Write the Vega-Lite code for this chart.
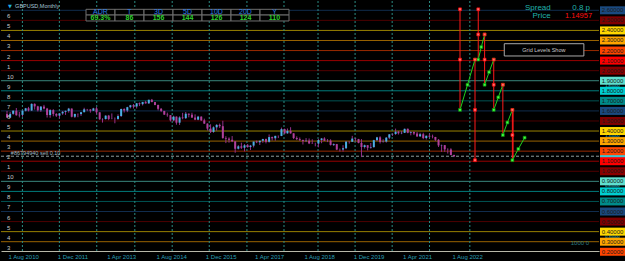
{
"$schema": "https://vega.github.io/schema/vega-lite/v6.json",
"background": "#000000",
"padding": 0,
"spacing": 0,
"bounds": "flush",
"config": {"view": {"stroke": null}, "text": {"font": "Liberation Sans"}, "axis": {"grid": false}},
"datasets": {
"levels": [
{"p":2.6,"d":"6","lab":"2.60000","left":"6"},{"p":2.5,"d":"5","lab":"2.50000","left":"5"},{"p":2.4,"d":"4","lab":"2.40000","left":"4"},{"p":2.3,"d":"3","lab":"2.30000","left":"3"},{"p":2.2,"d":"2","lab":"2.20000","left":"2"},{"p":2.1,"d":"1","lab":"2.10000","left":"1"},{"p":2.0,"d":"0","lab":"2.00000","left":"10"},{"p":1.9,"d":"9","lab":"1.90000","left":"9"},{"p":1.8,"d":"8","lab":"1.80000","left":"8"},{"p":1.7,"d":"7","lab":"1.70000","left":"7"},{"p":1.6,"d":"6","lab":"1.60000","left":"6"},{"p":1.5,"d":"5","lab":"1.50000","left":"5"},{"p":1.4,"d":"4","lab":"1.40000","left":"4"},{"p":1.3,"d":"3","lab":"1.30000","left":"3"},{"p":1.2,"d":"2","lab":"1.20000","left":"2"},{"p":1.1,"d":"1","lab":"1.10000","left":"1"},{"p":1.0,"d":"0","lab":"1.00000","left":"10"},{"p":0.9,"d":"9","lab":"0.90000","left":"9"},{"p":0.8,"d":"8","lab":"0.80000","left":"8"},{"p":0.7,"d":"7","lab":"0.70000","left":"7"},{"p":0.6,"d":"6","lab":"0.60000","left":"6"},{"p":0.5,"d":"5","lab":"0.50000","left":"5"},{"p":0.4,"d":"4","lab":"0.40000","left":"4"},{"p":0.3,"d":"3","lab":"0.30000","left":"3"},{"p":0.2,"d":"2","lab":"0.20000","left":""}
],
"vgrid": [{"t":"2010-12-31"},{"t":"2011-12-31"},{"t":"2013-01-03"},{"t":"2014-01-14"},{"t":"2015-01-18"},{"t":"2016-01-19"},{"t":"2017-01-25"},{"t":"2018-01-26"},{"t":"2018-12-28"},{"t":"2019-12-29"},{"t":"2020-12-29"},{"t":"2022-01-02"},{"t":"2023-02-04"}],
"candles": [
{"t":"2010-08-01","o":1.569,"h":1.600,"l":1.533,"c":1.534},
{"t":"2010-09-01","o":1.534,"h":1.590,"l":1.529,"c":1.571},
{"t":"2010-10-01","o":1.571,"h":1.604,"l":1.562,"c":1.602},
{"t":"2010-11-01","o":1.602,"h":1.629,"l":1.553,"c":1.557},
{"t":"2010-12-01","o":1.557,"h":1.590,"l":1.535,"c":1.561},
{"t":"2011-01-01","o":1.561,"h":1.603,"l":1.543,"c":1.602},
{"t":"2011-02-01","o":1.602,"h":1.630,"l":1.595,"c":1.626},
{"t":"2011-03-01","o":1.626,"h":1.640,"l":1.595,"c":1.604},
{"t":"2011-04-01","o":1.604,"h":1.675,"l":1.600,"c":1.670},
{"t":"2011-05-01","o":1.670,"h":1.675,"l":1.613,"c":1.645},
{"t":"2011-06-01","o":1.645,"h":1.651,"l":1.594,"c":1.606},
{"t":"2011-07-01","o":1.606,"h":1.647,"l":1.590,"c":1.643},
{"t":"2011-08-01","o":1.643,"h":1.660,"l":1.615,"c":1.623},
{"t":"2011-09-01","o":1.623,"h":1.630,"l":1.534,"c":1.559},
{"t":"2011-10-01","o":1.559,"h":1.617,"l":1.532,"c":1.608},
{"t":"2011-11-01","o":1.608,"h":1.617,"l":1.546,"c":1.570},
{"t":"2011-12-01","o":1.570,"h":1.577,"l":1.540,"c":1.553},
{"t":"2012-01-01","o":1.553,"h":1.580,"l":1.523,"c":1.575},
{"t":"2012-02-01","o":1.575,"h":1.599,"l":1.561,"c":1.591},
{"t":"2012-03-01","o":1.591,"h":1.604,"l":1.560,"c":1.600},
{"t":"2012-04-01","o":1.600,"h":1.630,"l":1.583,"c":1.623},
{"t":"2012-05-01","o":1.623,"h":1.625,"l":1.536,"c":1.542},
{"t":"2012-06-01","o":1.542,"h":1.572,"l":1.530,"c":1.570},
{"t":"2012-07-01","o":1.570,"h":1.574,"l":1.537,"c":1.568},
{"t":"2012-08-01","o":1.568,"h":1.590,"l":1.550,"c":1.587},
{"t":"2012-09-01","o":1.587,"h":1.631,"l":1.586,"c":1.616},
{"t":"2012-10-01","o":1.616,"h":1.620,"l":1.597,"c":1.614},
{"t":"2012-11-01","o":1.614,"h":1.617,"l":1.583,"c":1.602},
{"t":"2012-12-01","o":1.602,"h":1.631,"l":1.600,"c":1.625},
{"t":"2013-01-01","o":1.625,"h":1.638,"l":1.566,"c":1.586},
{"t":"2013-02-01","o":1.586,"h":1.586,"l":1.511,"c":1.517},
{"t":"2013-03-01","o":1.517,"h":1.527,"l":1.484,"c":1.519},
{"t":"2013-04-01","o":1.519,"h":1.556,"l":1.514,"c":1.553},
{"t":"2013-05-01","o":1.553,"h":1.560,"l":1.508,"c":1.520},
{"t":"2013-06-01","o":1.520,"h":1.575,"l":1.517,"c":1.521},
{"t":"2013-07-01","o":1.521,"h":1.535,"l":1.477,"c":1.520},
{"t":"2013-08-01","o":1.520,"h":1.566,"l":1.512,"c":1.549},
{"t":"2013-09-01","o":1.549,"h":1.623,"l":1.540,"c":1.619},
{"t":"2013-10-01","o":1.619,"h":1.626,"l":1.584,"c":1.604},
{"t":"2013-11-01","o":1.604,"h":1.641,"l":1.588,"c":1.637},
{"t":"2013-12-01","o":1.637,"h":1.660,"l":1.625,"c":1.656},
{"t":"2014-01-01","o":1.656,"h":1.668,"l":1.624,"c":1.644},
{"t":"2014-02-01","o":1.644,"h":1.679,"l":1.624,"c":1.676},
{"t":"2014-03-01","o":1.676,"h":1.684,"l":1.648,"c":1.667},
{"t":"2014-04-01","o":1.667,"h":1.690,"l":1.654,"c":1.688},
{"t":"2014-05-01","o":1.688,"h":1.700,"l":1.672,"c":1.675},
{"t":"2014-06-01","o":1.675,"h":1.711,"l":1.670,"c":1.711},
{"t":"2014-07-01","o":1.711,"h":1.719,"l":1.686,"c":1.688},
{"t":"2014-08-01","o":1.688,"h":1.689,"l":1.656,"c":1.659},
{"t":"2014-09-01","o":1.659,"h":1.663,"l":1.605,"c":1.621},
{"t":"2014-10-01","o":1.621,"h":1.629,"l":1.588,"c":1.600},
{"t":"2014-11-01","o":1.600,"h":1.600,"l":1.560,"c":1.563},
{"t":"2014-12-01","o":1.563,"h":1.583,"l":1.542,"c":1.558},
{"t":"2015-01-01","o":1.558,"h":1.559,"l":1.495,"c":1.506},
{"t":"2015-02-01","o":1.506,"h":1.552,"l":1.497,"c":1.543},
{"t":"2015-03-01","o":1.543,"h":1.545,"l":1.463,"c":1.483},
{"t":"2015-04-01","o":1.483,"h":1.546,"l":1.460,"c":1.535},
{"t":"2015-05-01","o":1.535,"h":1.581,"l":1.517,"c":1.528},
{"t":"2015-06-01","o":1.528,"h":1.589,"l":1.520,"c":1.572},
{"t":"2015-07-01","o":1.572,"h":1.575,"l":1.536,"c":1.562},
{"t":"2015-08-01","o":1.562,"h":1.582,"l":1.530,"c":1.534},
{"t":"2015-09-01","o":1.534,"h":1.566,"l":1.508,"c":1.513},
{"t":"2015-10-01","o":1.513,"h":1.551,"l":1.507,"c":1.543},
{"t":"2015-11-01","o":1.543,"h":1.546,"l":1.500,"c":1.506},
{"t":"2015-12-01","o":1.506,"h":1.523,"l":1.470,"c":1.474},
{"t":"2016-01-01","o":1.474,"h":1.476,"l":1.405,"c":1.424},
{"t":"2016-02-01","o":1.424,"h":1.467,"l":1.380,"c":1.391},
{"t":"2016-03-01","o":1.391,"h":1.446,"l":1.383,"c":1.437},
{"t":"2016-04-01","o":1.437,"h":1.468,"l":1.403,"c":1.461},
{"t":"2016-05-01","o":1.461,"h":1.474,"l":1.431,"c":1.448},
{"t":"2016-06-01","o":1.448,"h":1.502,"l":1.323,"c":1.331},
{"t":"2016-07-01","o":1.331,"h":1.348,"l":1.280,"c":1.324},
{"t":"2016-08-01","o":1.324,"h":1.337,"l":1.284,"c":1.313},
{"t":"2016-09-01","o":1.313,"h":1.350,"l":1.290,"c":1.297},
{"t":"2016-10-01","o":1.297,"h":1.299,"l":1.184,"c":1.224},
{"t":"2016-11-01","o":1.224,"h":1.260,"l":1.217,"c":1.248},
{"t":"2016-12-01","o":1.248,"h":1.284,"l":1.222,"c":1.234},
{"t":"2017-01-01","o":1.234,"h":1.270,"l":1.198,"c":1.258},
{"t":"2017-02-01","o":1.258,"h":1.271,"l":1.234,"c":1.241},
{"t":"2017-03-01","o":1.241,"h":1.262,"l":1.211,"c":1.255},
{"t":"2017-04-01","o":1.255,"h":1.295,"l":1.237,"c":1.295},
{"t":"2017-05-01","o":1.295,"h":1.305,"l":1.280,"c":1.288},
{"t":"2017-06-01","o":1.288,"h":1.305,"l":1.261,"c":1.303},
{"t":"2017-07-01","o":1.303,"h":1.323,"l":1.283,"c":1.320},
{"t":"2017-08-01","o":1.320,"h":1.325,"l":1.277,"c":1.293},
{"t":"2017-09-01","o":1.293,"h":1.366,"l":1.285,"c":1.340},
{"t":"2017-10-01","o":1.340,"h":1.345,"l":1.306,"c":1.328},
{"t":"2017-11-01","o":1.328,"h":1.353,"l":1.304,"c":1.352},
{"t":"2017-12-01","o":1.352,"h":1.355,"l":1.330,"c":1.351},
{"t":"2018-01-01","o":1.351,"h":1.434,"l":1.349,"c":1.419},
{"t":"2018-02-01","o":1.419,"h":1.424,"l":1.371,"c":1.377},
{"t":"2018-03-01","o":1.377,"h":1.425,"l":1.373,"c":1.402},
{"t":"2018-04-01","o":1.402,"h":1.438,"l":1.374,"c":1.377},
{"t":"2018-05-01","o":1.377,"h":1.378,"l":1.320,"c":1.330},
{"t":"2018-06-01","o":1.330,"h":1.347,"l":1.310,"c":1.320},
{"t":"2018-07-01","o":1.320,"h":1.336,"l":1.300,"c":1.312},
{"t":"2018-08-01","o":1.312,"h":1.313,"l":1.266,"c":1.300},
{"t":"2018-09-01","o":1.300,"h":1.330,"l":1.290,"c":1.304},
{"t":"2018-10-01","o":1.304,"h":1.326,"l":1.270,"c":1.277},
{"t":"2018-11-01","o":1.277,"h":1.318,"l":1.272,"c":1.275},
{"t":"2018-12-01","o":1.275,"h":1.284,"l":1.248,"c":1.275},
{"t":"2019-01-01","o":1.275,"h":1.322,"l":1.238,"c":1.311},
{"t":"2019-02-01","o":1.311,"h":1.331,"l":1.279,"c":1.326},
{"t":"2019-03-01","o":1.326,"h":1.338,"l":1.300,"c":1.303},
{"t":"2019-04-01","o":1.303,"h":1.320,"l":1.290,"c":1.304},
{"t":"2019-05-01","o":1.304,"h":1.318,"l":1.256,"c":1.262},
{"t":"2019-06-01","o":1.262,"h":1.277,"l":1.251,"c":1.270},
{"t":"2019-07-01","o":1.270,"h":1.272,"l":1.210,"c":1.216},
{"t":"2019-08-01","o":1.216,"h":1.226,"l":1.196,"c":1.216},
{"t":"2019-09-01","o":1.216,"h":1.259,"l":1.196,"c":1.229},
{"t":"2019-10-01","o":1.229,"h":1.301,"l":1.220,"c":1.294},
{"t":"2019-11-01","o":1.294,"h":1.298,"l":1.275,"c":1.293},
{"t":"2019-12-01","o":1.293,"h":1.352,"l":1.291,"c":1.325},
{"t":"2020-01-01","o":1.325,"h":1.330,"l":1.296,"c":1.320},
{"t":"2020-02-01","o":1.320,"h":1.322,"l":1.278,"c":1.282},
{"t":"2020-03-01","o":1.282,"h":1.320,"l":1.141,"c":1.241},
{"t":"2020-04-01","o":1.241,"h":1.265,"l":1.226,"c":1.259},
{"t":"2020-05-01","o":1.259,"h":1.260,"l":1.207,"c":1.234},
{"t":"2020-06-01","o":1.234,"h":1.281,"l":1.225,"c":1.240},
{"t":"2020-07-01","o":1.240,"h":1.313,"l":1.235,"c":1.309},
{"t":"2020-08-01","o":1.309,"h":1.342,"l":1.300,"c":1.337},
{"t":"2020-09-01","o":1.337,"h":1.348,"l":1.276,"c":1.292},
{"t":"2020-10-01","o":1.292,"h":1.318,"l":1.285,"c":1.295},
{"t":"2020-11-01","o":1.295,"h":1.340,"l":1.285,"c":1.334},
{"t":"2020-12-01","o":1.334,"h":1.370,"l":1.319,"c":1.367},
{"t":"2021-01-01","o":1.367,"h":1.376,"l":1.352,"c":1.370},
{"t":"2021-02-01","o":1.370,"h":1.424,"l":1.362,"c":1.393},
{"t":"2021-03-01","o":1.393,"h":1.401,"l":1.365,"c":1.378},
{"t":"2021-04-01","o":1.378,"h":1.401,"l":1.369,"c":1.382},
{"t":"2021-05-01","o":1.382,"h":1.424,"l":1.380,"c":1.422},
{"t":"2021-06-01","o":1.422,"h":1.425,"l":1.378,"c":1.383},
{"t":"2021-07-01","o":1.383,"h":1.398,"l":1.357,"c":1.390},
{"t":"2021-08-01","o":1.390,"h":1.396,"l":1.360,"c":1.375},
{"t":"2021-09-01","o":1.375,"h":1.391,"l":1.341,"c":1.347},
{"t":"2021-10-01","o":1.347,"h":1.383,"l":1.343,"c":1.368},
{"t":"2021-11-01","o":1.368,"h":1.383,"l":1.319,"c":1.330},
{"t":"2021-12-01","o":1.330,"h":1.355,"l":1.316,"c":1.353},
{"t":"2022-01-01","o":1.353,"h":1.375,"l":1.336,"c":1.344},
{"t":"2022-02-01","o":1.344,"h":1.364,"l":1.327,"c":1.341},
{"t":"2022-03-01","o":1.341,"h":1.342,"l":1.300,"c":1.313},
{"t":"2022-04-01","o":1.313,"h":1.320,"l":1.241,"c":1.257},
{"t":"2022-05-01","o":1.257,"h":1.265,"l":1.193,"c":1.260},
{"t":"2022-06-01","o":1.260,"h":1.260,"l":1.193,"c":1.218},
{"t":"2022-07-01","o":1.218,"h":1.228,"l":1.176,"c":1.217},
{"t":"2022-08-01","o":1.217,"h":1.229,"l":1.160,"c":1.162},
{"t":"2022-09-01","o":1.162,"h":1.165,"l":1.141,"c":1.150}
],
"reds": [
{"t":"2022-10-30","a":2.61,"b":1.61},{"t":"2023-03-27","a":2.11,"b":1.11},{"t":"2023-04-28","a":2.61,"b":2.11},{"t":"2023-06-30","a":2.36,"b":1.86},{"t":"2023-09-28","a":2.11,"b":1.61},{"t":"2023-12-27","a":1.86,"b":1.36},{"t":"2024-03-30","a":1.61,"b":1.11},{"t":"2024-04-06","a":1.61,"b":1.11}
],
"redpts": [
{"t":"2022-10-30","p":2.61},{"t":"2022-10-30","p":2.11},{"t":"2023-04-28","p":2.61},{"t":"2023-04-28","p":2.36},{"t":"2023-06-30","p":2.36},{"t":"2023-06-30","p":2.11},{"t":"2023-03-27","p":2.11},{"t":"2023-03-27","p":1.61},{"t":"2023-03-27","p":1.11},{"t":"2023-09-28","p":2.11},{"t":"2023-09-28","p":1.86},{"t":"2023-12-27","p":1.86},{"t":"2024-03-30","p":1.61},{"t":"2024-03-30","p":1.36}
],
"greens": [
{"g":"a","t":"2022-10-30","p":1.61},{"g":"a","t":"2023-01-12","p":1.86},{"g":"a","t":"2023-03-27","p":2.11},
{"g":"b","t":"2023-04-28","p":2.11},{"g":"b","t":"2023-05-28","p":2.235},{"g":"b","t":"2023-06-30","p":2.36},
{"g":"c","t":"2023-06-30","p":1.86},{"g":"c","t":"2023-08-13","p":1.985},{"g":"c","t":"2023-09-28","p":2.11},
{"g":"d","t":"2023-09-28","p":1.61},{"g":"d","t":"2023-11-12","p":1.735},{"g":"d","t":"2023-12-27","p":1.86},
{"g":"e","t":"2023-12-27","p":1.36},{"g":"e","t":"2024-02-10","p":1.485},{"g":"e","t":"2024-03-30","p":1.61},
{"g":"f","t":"2024-03-30","p":1.11},{"g":"f","t":"2024-05-28","p":1.222},{"g":"f","t":"2024-07-29","p":1.334}
],
"adr": [
{"col":"ADR","val":"69.3%"},{"col":"T","val":"86"},{"col":"3D","val":"156"},{"col":"5D","val":"144"},{"col":"10D","val":"126"},{"col":"20D","val":"124"},{"col":"Y","val":"110"}
],
"minor": [{"p":1.85,"s":"1.85000"},{"p":1.35,"s":"1.35000"},{"p":0.85,"s":"0.85000"},{"p":0.35,"s":"0.35000"}]
},
"hconcat": [
{
"width": 598,
"height": 250,
"resolve": {"scale": {"x": "independent"}},
"layer": [
{
"layer": [
{"data":{"name":"levels"},"transform":[{"filter":"datum.p > 0.25"}],"mark":{"type":"rule","strokeWidth":1,"opacity":0.6},
 "encoding":{"y":{"field":"p","type":"quantitative","title":null,"axis":null,"scale":{"domain":[0.2075,2.6925],"nice":false,"zero":false}},
 "color":{"field":"d","type":"nominal","legend":null,"scale":{"domain":["0","1","2","3","4","5","6","7","8","9"],"range":["#8b0000","#ff0000","#ff4500","#ffa500","#ffd700","#800000","#1a4a80","#008b8b","#00ced1","#5fe0d0"]}}}},
{"data":{"name":"vgrid"},"mark":{"type":"rule","strokeDash":[2,2],"color":"#2b8c84","strokeWidth":1},
 "encoding":{"x":{"field":"t","type":"temporal","title":null,
  "scale":{"type":"utc","domain":[{"year":2010,"month":7,"date":22,"utc":true},{"year":2026,"month":6,"date":14,"utc":true}]},
  "axis":{"values":[{"year":2010,"month":8,"date":1,"utc":true},{"year":2011,"month":12,"date":1,"utc":true},{"year":2013,"month":4,"date":1,"utc":true},{"year":2014,"month":8,"date":1,"utc":true},{"year":2015,"month":12,"date":1,"utc":true},{"year":2017,"month":4,"date":1,"utc":true},{"year":2018,"month":8,"date":1,"utc":true},{"year":2019,"month":12,"date":1,"utc":true},{"year":2021,"month":4,"date":1,"utc":true},{"year":2022,"month":8,"date":1,"utc":true}],
   "format":"%-d %b %Y","labelAlign":"left","labelOffset":1,"labelPadding":2,"ticks":false,"tickSize":0,"labelColor":"#2a9fb5","labelFontSize":6,"labelFont":"Liberation Sans","domainColor":"#b8b8a8","domainWidth":1,"labelOverlap":false,"labelFlush":false,"labelBound":false,"minExtent":11,"maxExtent":11,"grid":false,"title":null}}}},
{"data":{"values":[{"p":1.14957}]},"mark":{"type":"rule","strokeDash":[3,2],"color":"#8c9c9c","strokeWidth":1},
 "encoding":{"y":{"field":"p","type":"quantitative","title":null,"axis":null,"scale":{"domain":[0.2075,2.6925],"nice":false,"zero":false}}}},
{"data":{"name":"candles"},"mark":{"type":"rule","color":"#93308a","strokeWidth":1},
 "encoding":{"x":{"field":"t","type":"temporal","title":null,"scale":{"type":"utc","domain":[{"year":2010,"month":7,"date":22,"utc":true},{"year":2026,"month":6,"date":14,"utc":true}]}},
 "y":{"field":"l","type":"quantitative","title":null,"axis":null,"scale":{"domain":[0.2075,2.6925],"nice":false,"zero":false}},"y2":{"field":"h"}}},
{"data":{"name":"candles"},"mark":{"type":"bar","size":2,"opacity":1},
 "encoding":{"x":{"field":"t","type":"temporal","title":null,"scale":{"type":"utc","domain":[{"year":2010,"month":7,"date":22,"utc":true},{"year":2026,"month":6,"date":14,"utc":true}]}},
 "y":{"field":"o","type":"quantitative","title":null,"axis":null,"scale":{"domain":[0.2075,2.6925],"nice":false,"zero":false}},"y2":{"field":"c"},
 "color":{"condition":{"test":"datum.c >= datum.o","value":"#48b0e4"},"value":"#b0409a"}}},
{"data":{"name":"reds"},"mark":{"type":"rule","color":"#ff1a1a","strokeWidth":1},
 "encoding":{"x":{"field":"t","type":"temporal","title":null,"scale":{"type":"utc","domain":[{"year":2010,"month":7,"date":22,"utc":true},{"year":2026,"month":6,"date":14,"utc":true}]}},
 "y":{"field":"a","type":"quantitative","title":null,"axis":null,"scale":{"domain":[0.2075,2.6925],"nice":false,"zero":false}},"y2":{"field":"b"}}},
{"data":{"name":"greens"},"mark":{"type":"line","color":"#1ed21e","strokeWidth":1},
 "encoding":{"x":{"field":"t","type":"temporal","title":null,"scale":{"type":"utc","domain":[{"year":2010,"month":7,"date":22,"utc":true},{"year":2026,"month":6,"date":14,"utc":true}]}},
 "y":{"field":"p","type":"quantitative","title":null,"axis":null,"scale":{"domain":[0.2075,2.6925],"nice":false,"zero":false}},"detail":{"field":"g","type":"nominal"}}},
{"data":{"name":"greens"},"mark":{"type":"point","shape":"square","filled":true,"size":8,"fill":"#40ff40","stroke":"#0a8a0a","strokeWidth":0.7,"opacity":1},
 "encoding":{"x":{"field":"t","type":"temporal","title":null,"scale":{"type":"utc","domain":[{"year":2010,"month":7,"date":22,"utc":true},{"year":2026,"month":6,"date":14,"utc":true}]}},
 "y":{"field":"p","type":"quantitative","title":null,"axis":null,"scale":{"domain":[0.2075,2.6925],"nice":false,"zero":false}}}},
{"data":{"name":"redpts"},"mark":{"type":"point","shape":"square","filled":true,"size":8,"fill":"#ff7070","stroke":"#ff0000","strokeWidth":0.7,"opacity":1},
 "encoding":{"x":{"field":"t","type":"temporal","title":null,"scale":{"type":"utc","domain":[{"year":2010,"month":7,"date":22,"utc":true},{"year":2026,"month":6,"date":14,"utc":true}]}},
 "y":{"field":"p","type":"quantitative","title":null,"axis":null,"scale":{"domain":[0.2075,2.6925],"nice":false,"zero":false}}}},
{"data":{"name":"levels"},"mark":{"type":"text","align":"left","baseline":"middle","dx":1,"dy":6,"fontSize":6,"color":"#c8c8c8"},
 "encoding":{"x":{"datum":{"year":2010,"month":7,"date":22,"utc":true},"type":"temporal","title":null,"scale":{"type":"utc","domain":[{"year":2010,"month":7,"date":22,"utc":true},{"year":2026,"month":6,"date":14,"utc":true}]}},
 "y":{"field":"p","type":"quantitative","title":null,"axis":null,"scale":{"domain":[0.2075,2.6925],"nice":false,"zero":false}},"text":{"field":"left"}}},
{"data":{"values":[{"s":"▼"}]},"mark":{"type":"text","align":"left","baseline":"middle","fontSize":5,"font":"DejaVu Sans","color":"#1fb0e0"},
 "encoding":{"x":{"datum":{"year":2010,"month":8,"date":11,"utc":true},"type":"temporal","title":null},"y":{"datum":2.643,"type":"quantitative","title":null,"axis":null},"text":{"field":"s"}}},
{"data":{"values":[{"s":"GBPUSD,Monthly"}]},"mark":{"type":"text","align":"left","baseline":"middle","fontSize":5.5,"color":"#a8c8d8"},
 "encoding":{"x":{"datum":{"year":2010,"month":10,"date":20,"utc":true},"type":"temporal","title":null},"y":{"datum":2.643,"type":"quantitative","title":null,"axis":null},"text":{"field":"s"}}},
{"data":{"values":[{"s":"#86794940 sell 0.10"}]},"mark":{"type":"text","align":"left","baseline":"middle","fontSize":5.5,"color":"#a0b8c0"},
 "encoding":{"x":{"datum":{"year":2010,"month":9,"date":8,"utc":true},"type":"temporal","title":null},"y":{"datum":1.186,"type":"quantitative","title":null,"axis":null},"text":{"field":"s"}}},
{"data":{"values":[{"s":"Spread"}]},"mark":{"type":"text","align":"right","baseline":"middle","fontSize":8,"color":"#20b2aa"},
 "encoding":{"x":{"datum":{"year":2025,"month":4,"date":13,"utc":true},"type":"temporal","title":null},"y":{"datum":2.618,"type":"quantitative","title":null,"axis":null},"text":{"field":"s"}}},
{"data":{"values":[{"s":"0.8 p"}]},"mark":{"type":"text","align":"right","baseline":"middle","fontSize":8,"color":"#20b2aa"},
 "encoding":{"x":{"datum":{"year":2026,"month":5,"date":6,"utc":true},"type":"temporal","title":null},"y":{"datum":2.618,"type":"quantitative","title":null,"axis":null},"text":{"field":"s"}}},
{"data":{"values":[{"s":"Price"}]},"mark":{"type":"text","align":"right","baseline":"middle","fontSize":8,"color":"#20b2aa"},
 "encoding":{"x":{"datum":{"year":2025,"month":4,"date":13,"utc":true},"type":"temporal","title":null},"y":{"datum":2.543,"type":"quantitative","title":null,"axis":null},"text":{"field":"s"}}},
{"data":{"values":[{"s":"1.14957"}]},"mark":{"type":"text","align":"right","baseline":"middle","fontSize":7.5,"color":"#ff1010"},
 "encoding":{"x":{"datum":{"year":2026,"month":5,"date":26,"utc":true},"type":"temporal","title":null},"y":{"datum":2.543,"type":"quantitative","title":null,"axis":null},"text":{"field":"s"}}},
{"data":{"values":[{"s":"Grid Levels Show"}]},"mark":{"type":"rect","fill":"#000000","stroke":"#a8a8a8","strokeWidth":1},
 "encoding":{"x":{"datum":{"year":2024,"month":1,"date":10,"utc":true},"type":"temporal","title":null},"x2":{"datum":{"year":2026,"month":3,"date":6,"utc":true}},"y":{"datum":2.268,"type":"quantitative","title":null,"axis":null},"y2":{"datum":2.146}}},
{"data":{"values":[{"s":"Grid Levels Show"}]},"mark":{"type":"text","align":"center","baseline":"middle","fontSize":5.5,"color":"#c8c8c8"},
 "encoding":{"x":{"datum":{"year":2025,"month":2,"date":4,"utc":true},"type":"temporal","title":null},"y":{"datum":2.207,"type":"quantitative","title":null,"axis":null},"text":{"field":"s"}}},
{"data":{"values":[{"s":"1000  0"}]},"mark":{"type":"text","align":"right","baseline":"middle","fontSize":6,"color":"#2a7a80"},
 "encoding":{"x":{"datum":{"year":2026,"month":4,"date":27,"utc":true},"type":"temporal","title":null},"y":{"datum":0.287,"type":"quantitative","title":null,"axis":null},"text":{"field":"s"}}}
]
},
{
"data": {"name": "adr"},
"layer": [
{"mark":{"type":"rect","fill":"#000000","stroke":"#707070","strokeWidth":1},
 "encoding":{"x":{"field":"col","type":"nominal","title":null,"axis":null,"sort":null,"scale":{"type":"band","domain":["ADR","T","3D","5D","10D","20D","Y"],"range":[85,288],"paddingInner":0,"paddingOuter":0}},
 "y":{"datum":2.61,"type":"quantitative","title":null,"axis":null},"y2":{"datum":2.553}}},
{"mark":{"type":"rect","fill":"#000000","stroke":"#707070","strokeWidth":1},
 "encoding":{"x":{"field":"col","type":"nominal","title":null,"axis":null,"sort":null},
 "y":{"datum":2.553,"type":"quantitative","title":null,"axis":null},"y2":{"datum":2.494}}},
{"mark":{"type":"text","align":"center","baseline":"middle","fontSize":7,"color":"#2a7fe8"},
 "encoding":{"x":{"field":"col","type":"nominal","title":null,"axis":null,"sort":null,"band":0.5},
 "y":{"datum":2.581,"type":"quantitative","title":null,"axis":null},"text":{"field":"col"}}},
{"mark":{"type":"text","align":"center","baseline":"middle","fontSize":7,"fontWeight":"bold","color":"#2ed02e"},
 "encoding":{"x":{"field":"col","type":"nominal","title":null,"axis":null,"sort":null,"band":0.5},
 "y":{"datum":2.523,"type":"quantitative","title":null,"axis":null},"text":{"field":"val"}}}
]
}
]
},
{
"width": 27,
"height": 250,
"layer": [
{"data":{"name":"minor"},"mark":{"type":"text","align":"center","baseline":"middle","fontSize":4,"color":"#3cc8d8"},
 "encoding":{"y":{"field":"p","type":"quantitative","title":null,"axis":null,"scale":{"domain":[0.2075,2.6925],"nice":false,"zero":false}},"text":{"field":"s"}}},
{"data":{"values":[{"p":1.14957}]},"mark":{"type":"tick","size":25,"thickness":8,"color":"#38c8d8","opacity":1},
 "encoding":{"y":{"field":"p","type":"quantitative","title":null,"axis":null,"scale":{"domain":[0.2075,2.6925],"nice":false,"zero":false}}}},
{"data":{"name":"levels"},"mark":{"type":"tick","size":25,"thickness":8,"opacity":1},
 "encoding":{"y":{"field":"p","type":"quantitative","title":null,"axis":null,"scale":{"domain":[0.2075,2.6925],"nice":false,"zero":false}},
 "color":{"field":"d","type":"nominal","legend":null,"scale":{"domain":["0","1","2","3","4","5","6","7","8","9"],"range":["#8b0000","#ff0000","#ff4500","#ffa500","#ffd700","#800000","#1a4a80","#008b8b","#00ced1","#5fe0d0"]}}}},
{"data":{"name":"levels"},"mark":{"type":"text","align":"center","baseline":"middle","fontSize":6,"color":"#1a1a1a"},
 "encoding":{"y":{"field":"p","type":"quantitative","title":null,"axis":null,"scale":{"domain":[0.2075,2.6925],"nice":false,"zero":false}},"text":{"field":"lab"}}}
]
}
]
}
